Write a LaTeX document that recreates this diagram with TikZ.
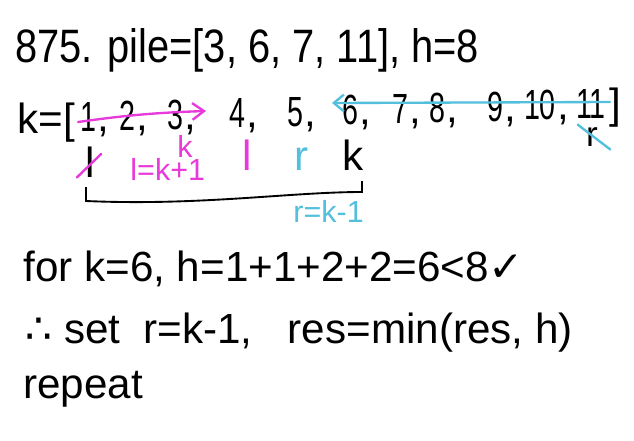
\documentclass[tikz,border=0pt]{standalone}
\usepackage{fontspec}
\setmainfont{Liberation Sans}
\newfontfamily\symfont{DejaVu Sans}
\usepackage{xcolor}
\usepackage{tikz}
\usetikzlibrary{positioning, calc, arrows.meta}

\definecolor{hlpink}{HTML}{E83ADB}
\definecolor{hlblue}{HTML}{52C0DC}

\tikzset{
    hand/.style={font=\fontsize{36}{36}\selectfont, inner sep=0pt, anchor=base west},
    num/.style={font=\fontsize{36}{36}\selectfont, inner sep=0pt, anchor=base},
    small/.style={font=\fontsize{26}{26}\selectfont, inner sep=0pt, anchor=base west},
    pinkline/.style={hlpink, line width=2pt, line cap=round},
    blueline/.style={hlblue, line width=2pt, line cap=round}
}

\begin{document}
\begin{tikzpicture}[x=0.03cm, y=-0.03cm, thick]

    % page
    \fill[white] (0,0) rectangle (634,440);
    \useasboundingbox (0,0) rectangle (634,440);

    % problem line
    \node[hand, font=\fontsize{40}{40}\selectfont, xscale=0.85] (title) at (15,62) {875. pile=[3, 6, 7, 11], h=8};

    % the k range
    \node[hand] (kopen) at (17,133) {k=[};
    \foreach \n/\x in {1/88, 2/127, 3/175, 4/237, 5/295, 6/350, 7/400, 8/437, 9/495, 10/540, 11/591}
        \node[num, xscale=0.68] (n\n) at (\x, {133-(\x-17)*0.025}) {\n};
    \foreach \i in {1,...,10}
        \node[num, anchor=base west] (c\i) at ([xshift=1pt]n\i.base east) {,};
    \node[num] (kclose) at (615, 118) {]};

    % crossed out parts
    \coordinate (pinkA) at (78,122);
    \coordinate (pinkB) at (206,111);
    \draw[pinkline, -{Straight Barb[length=0.35cm, width=0.5cm]}] (pinkA) to[bend left=3] (pinkB);
    \coordinate (blueA) at (610,102);
    \coordinate (blueB) at (332,103);
    \draw[blueline, -{Straight Barb[length=0.3cm, width=0.5cm]}] (blueA) -- (blueB);

    % pointers under the range
    \node[num] (lold) at (90,177) {l};
    \draw[pinkline] ($(lold.south west)+(-8,0)$) -- ($(lold.north east)+(6,8)$);
    \node[small, hlpink, anchor=base] (kmid) at (185,157) {k};
    \node[small, hlpink] (lset) at (130,180) {l=k+1};
    \node[num, hlpink] (lnew) at (247,170) {l};
    \node[num, hlblue] (rnew) at (302,170) {r};
    \node[num] (kcur) at (353,170) {k};
    \node[num, font=\fontsize{30}{30}\selectfont] (rold) at (592,146) {r};
    \draw[blueline] ($(rold.north west)+(-8,-2)$) -- ($(rold.south east)+(12,3)$);

    % bracket l..k
    \coordinate (brA) at (86,187);
    \coordinate (brB) at (362,181);
    \draw[line width=1.6pt] (brA) -- ++(0,14) .. controls (200,206) and (290,192) .. (362,192) -- (brB);
    \node[small, hlblue] (rset) at (293,222) {r=k-1};

    % reasoning
    \node[hand] (check) at (23,281) {for k=6,\ h=1+1+2+2=6<8{\symfont ✓}};
    \node[hand] (update) at (25,343) {{\symfont ∴} set\ \ r=k-1,\ \ \ res=min(res, h)};
    \node[hand] (again) at (23,398) {repeat};

\end{tikzpicture}
\end{document}
